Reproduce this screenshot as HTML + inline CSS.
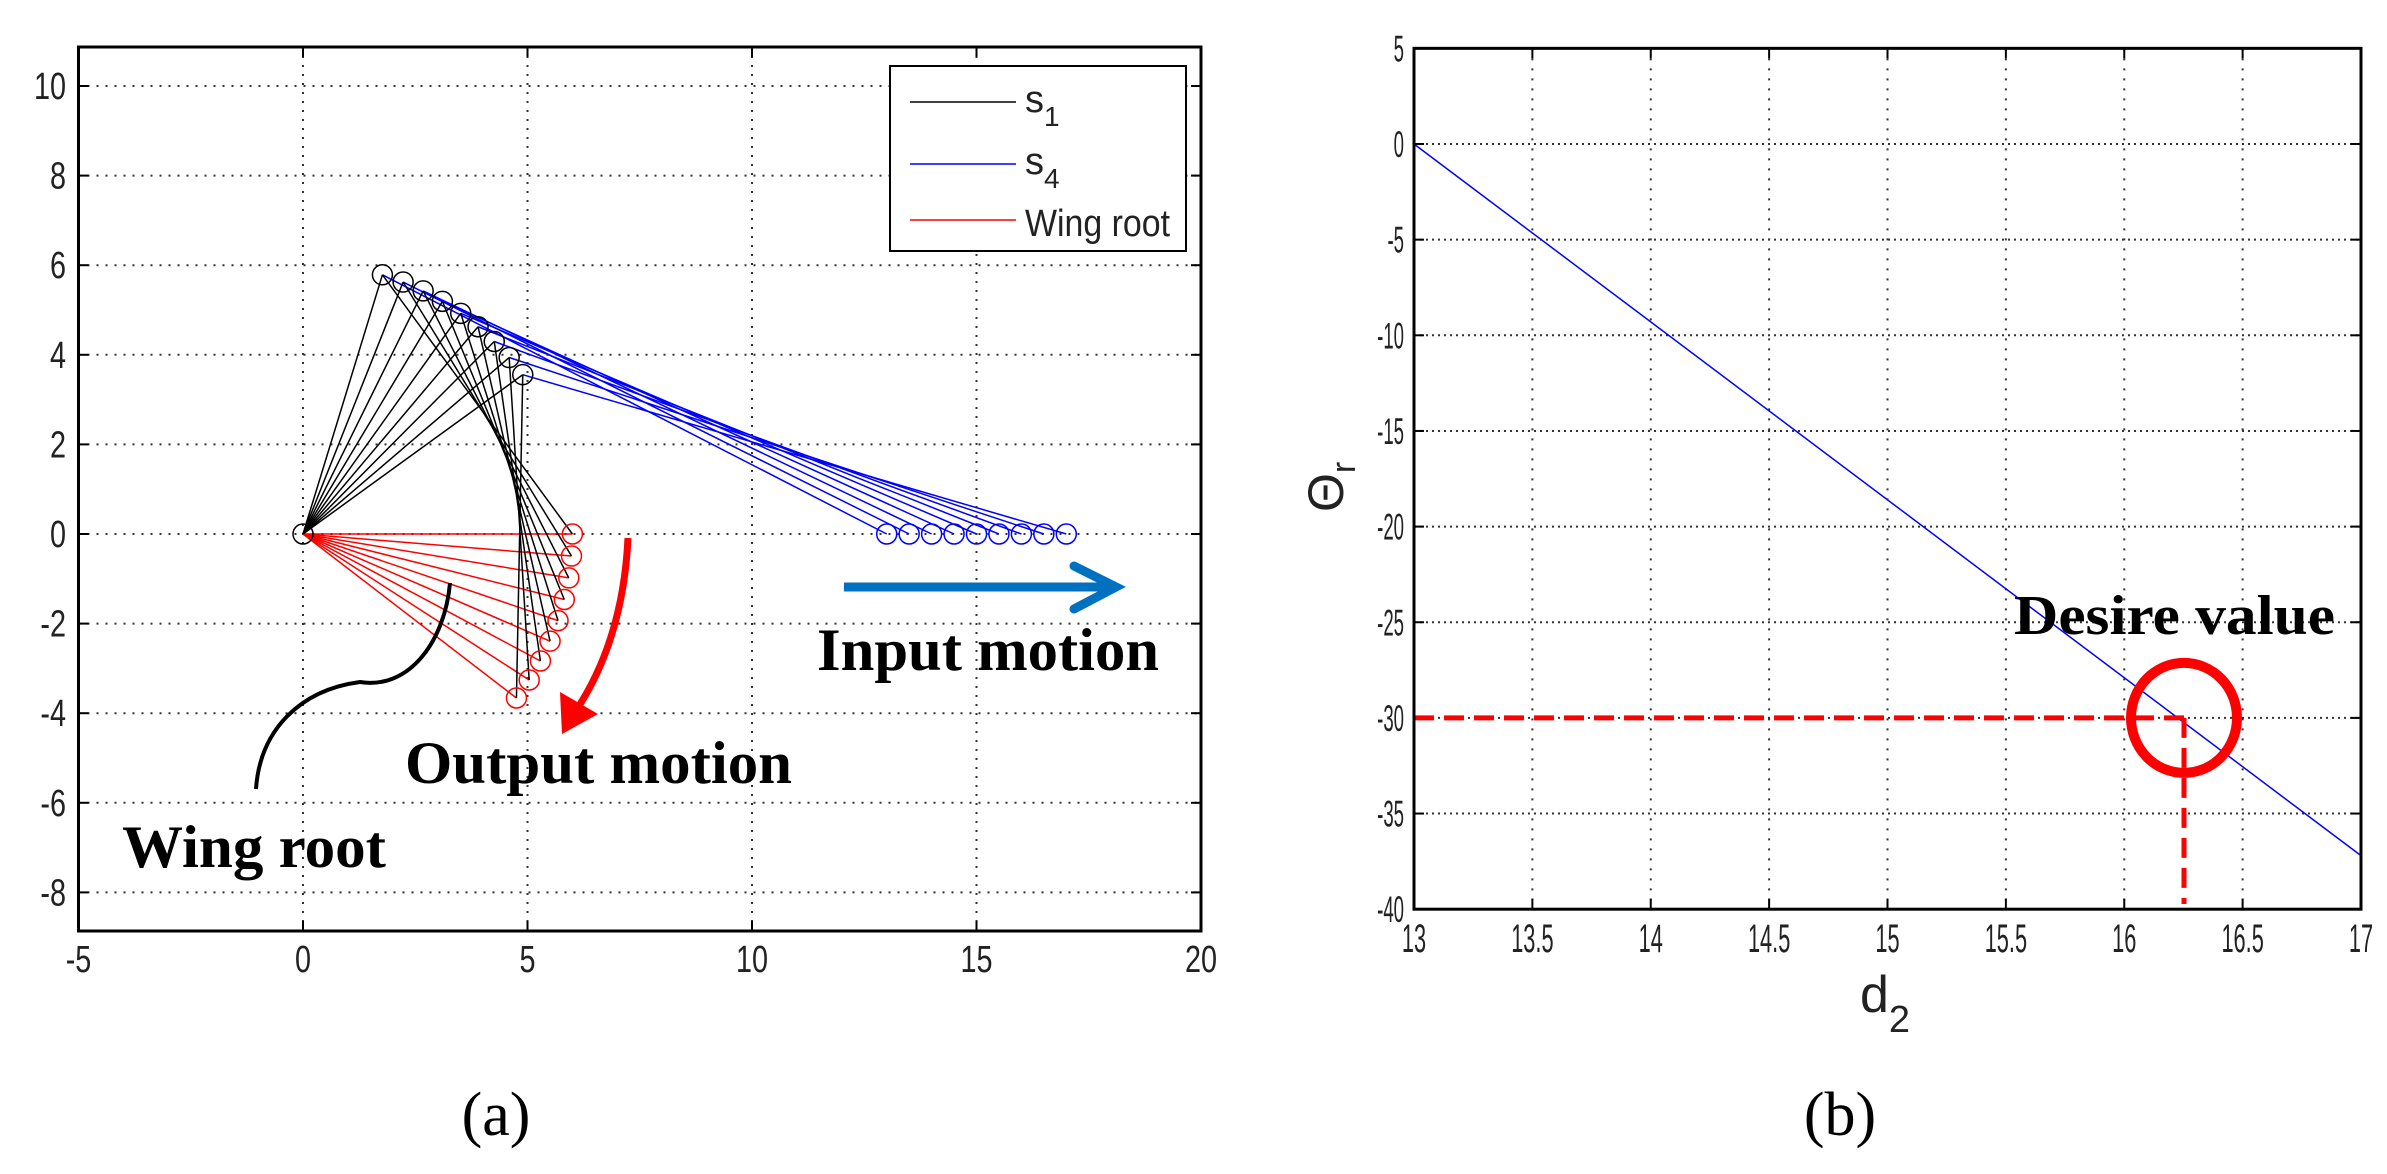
<!DOCTYPE html>
<html><head><meta charset="utf-8"><style>
html,body{margin:0;padding:0;background:#fff;}
svg{display:block;}
.t{font-family:"Liberation Sans",sans-serif;fill:#222;}
.s{font-family:"Liberation Serif",serif;font-weight:bold;fill:#000;}
</style></head><body>
<svg id="sv" width="2387" height="1174" viewBox="0 0 2387 1174" xmlns="http://www.w3.org/2000/svg">
<rect width="2387" height="1174" fill="#fff"/>
<g id="L"></g>
<g id="R"></g>
<path d="M628,538 C625,600 610,660 575,712" fill="none" stroke="#f00" stroke-width="7"/>
<polygon points="562,734 560,692 598,714" fill="#f00"/>
<path d="M450,583 C445,640 410,690 360,682 C300,690 260,730 256,789" fill="none" stroke="#000" stroke-width="4"/>
<line x1="844" y1="587" x2="1112" y2="587" stroke="#0070c0" stroke-width="9"/>
<polyline points="1074,566 1116,587 1074,609" fill="none" stroke="#0070c0" stroke-width="9" stroke-linecap="round"/>
<text class="s" x="817" y="670" font-size="60" textLength="342" lengthAdjust="spacingAndGlyphs">Input motion</text>
<text class="s" x="405" y="783" font-size="60" textLength="387" lengthAdjust="spacingAndGlyphs">Output motion</text>
<text class="s" x="122" y="867" font-size="60" textLength="264" lengthAdjust="spacingAndGlyphs">Wing root</text>
<text x="496" y="1135" font-family="Liberation Serif,serif" font-size="62" text-anchor="middle">(a)</text>
<rect x="890" y="66" width="296" height="185" fill="#fff" stroke="#000" stroke-width="2"/>
<line x1="910" y1="102" x2="1016" y2="102" stroke="#000" stroke-width="1.5"/>
<line x1="910" y1="164" x2="1016" y2="164" stroke="#00f" stroke-width="1.5"/>
<line x1="910" y1="220" x2="1016" y2="220" stroke="#f00" stroke-width="1.5"/>
<text class="t" x="1025" y="112" font-size="38">s<tspan font-size="28" dy="14">1</tspan></text>
<text class="t" x="1025" y="174" font-size="38">s<tspan font-size="28" dy="14">4</tspan></text>
<text class="t" x="1025" y="236" font-size="38" textLength="145" lengthAdjust="spacingAndGlyphs">Wing root</text>
<text class="s" x="2014" y="634" font-size="56" textLength="321" lengthAdjust="spacingAndGlyphs">Desire value</text>
<text x="1840" y="1135" font-family="Liberation Serif,serif" font-size="62" text-anchor="middle">(b)</text>
<text class="t" transform="translate(1343,512) rotate(-90)" font-size="50">Θ<tspan font-size="34" dy="12">r</tspan></text>
<text class="t" x="1860" y="1012" font-size="52">d<tspan font-size="38" dy="20">2</tspan></text>
</svg>
<script>
var NS="http://www.w3.org/2000/svg";
function el(p,t,a){var e=document.createElementNS(NS,t);for(var k in a)e.setAttribute(k,a[k]);p.appendChild(e);return e;}
function txt(p,x,y,s,anc){var e=el(p,"text",{"class":"t",x:x,y:y,"text-anchor":anc});e.textContent=s;return e;}
var L=document.getElementById("L");
function X(x){return 303+44.9*x;} function Y(y){return 534-44.8*y;}
var l0=X(-5),r0=X(20),t0=47,b0=931;
for(var x=0;x<=15;x+=5)el(L,"line",{x1:X(x),y1:t0,x2:X(x),y2:b0,stroke:"#333","stroke-width":2,"stroke-dasharray":"2 7"});
for(var y=-8;y<=10;y+=2)el(L,"line",{x1:l0,y1:Y(y),x2:r0,y2:Y(y),stroke:"#333","stroke-width":2,"stroke-dasharray":"2 7"});
for(var x=-5;x<=20;x+=5){el(L,"line",{x1:X(x),y1:b0,x2:X(x),y2:b0-10,stroke:"#000","stroke-width":2});el(L,"line",{x1:X(x),y1:t0,x2:X(x),y2:t0+10,stroke:"#000","stroke-width":2});
 var e=txt(L,0,0,String(x),"middle");e.setAttribute("font-size","32");e.setAttribute("transform","translate("+X(x)+",972) scale(0.9,1.2)");}
for(var y=-8;y<=10;y+=2){el(L,"line",{x1:l0,y1:Y(y),x2:l0+10,y2:Y(y),stroke:"#000","stroke-width":2});el(L,"line",{x1:r0,y1:Y(y),x2:r0-10,y2:Y(y),stroke:"#000","stroke-width":2});
 var e=txt(L,0,0,String(y),"end");e.setAttribute("font-size","32");e.setAttribute("transform","translate(66,"+(Y(y)+13)+") scale(0.9,1.2)");}
var N=9,d2r=Math.PI/180;
for(var i=0;i<N;i++){var f=i/(N-1);var pa=(73-37*f)*d2r,pd=(0-37.6*f)*d2r;
 var A=[6.05*Math.cos(pa),6.05*Math.sin(pa)],D=[6*Math.cos(pd),6*Math.sin(pd)],B=[13+0.5*i,0];
 el(L,"line",{x1:X(0),y1:Y(0),x2:X(D[0]),y2:Y(D[1]),stroke:"#f00","stroke-width":1.5});
 el(L,"line",{x1:X(A[0]),y1:Y(A[1]),x2:X(B[0]),y2:Y(B[1]),stroke:"#00f","stroke-width":1.5});
 el(L,"line",{x1:X(0),y1:Y(0),x2:X(A[0]),y2:Y(A[1]),stroke:"#000","stroke-width":1.5});
 el(L,"line",{x1:X(A[0]),y1:Y(A[1]),x2:X(D[0]),y2:Y(D[1]),stroke:"#000","stroke-width":1.5});
 el(L,"circle",{cx:X(A[0]),cy:Y(A[1]),r:10,fill:"none",stroke:"#000","stroke-width":1.5});
 el(L,"circle",{cx:X(D[0]),cy:Y(D[1]),r:10,fill:"none",stroke:"#f00","stroke-width":1.5});
 el(L,"circle",{cx:X(B[0]),cy:Y(B[1]),r:10,fill:"none",stroke:"#00f","stroke-width":1.5});}
el(L,"circle",{cx:X(0),cy:Y(0),r:10,fill:"none",stroke:"#000","stroke-width":1.5});
el(L,"rect",{x:l0,y:t0,width:r0-l0,height:b0-t0,fill:"none",stroke:"#000","stroke-width":3});
var R=document.getElementById("R");
function U(x){return 1414+236.75*(x-13);} function V(y){return 144-19.13*y;}
var l1=U(13),r1=U(17),t1=V(5),b1=V(-40);
for(var k=1;k<8;k++){var x=13+0.5*k;el(R,"line",{x1:U(x),y1:t1,x2:U(x),y2:b1,stroke:"#333","stroke-width":2,"stroke-dasharray":"2 8"});}
for(var y=0;y>=-35;y-=5)el(R,"line",{x1:l1,y1:V(y),x2:r1,y2:V(y),stroke:"#333","stroke-width":2,"stroke-dasharray":"2 4"});
for(var k=0;k<=8;k++){var x=13+0.5*k;el(R,"line",{x1:U(x),y1:b1,x2:U(x),y2:b1-10,stroke:"#000","stroke-width":2});el(R,"line",{x1:U(x),y1:t1,x2:U(x),y2:t1+10,stroke:"#000","stroke-width":2});
 var e=txt(R,0,0,String(x),"middle");e.setAttribute("font-size","32");e.setAttribute("transform","translate("+U(x)+",952) scale(0.68,1.25)");}
for(var y=5;y>=-40;y-=5){el(R,"line",{x1:l1,y1:V(y),x2:l1+10,y2:V(y),stroke:"#000","stroke-width":2});el(R,"line",{x1:r1,y1:V(y),x2:r1-10,y2:V(y),stroke:"#000","stroke-width":2});
 var e=txt(R,0,0,String(y),"end");e.setAttribute("font-size","30");e.setAttribute("transform","translate(1404,"+(V(y)+13)+") scale(0.62,1.25)");}
el(R,"line",{x1:U(13),y1:V(0),x2:U(17),y2:V(-37.2),stroke:"#00f","stroke-width":1.5});
el(R,"line",{x1:l1,y1:V(-30),x2:2184,y2:V(-30),stroke:"#f00","stroke-width":5,"stroke-dasharray":"20 10"});
el(R,"line",{x1:2184,y1:V(-30),x2:2184,y2:904,stroke:"#f00","stroke-width":5,"stroke-dasharray":"20 10"});
el(R,"ellipse",{cx:2184,cy:V(-30),rx:53,ry:55,fill:"none",stroke:"#f00","stroke-width":10});
el(R,"rect",{x:l1,y:t1,width:r1-l1,height:b1-t1,fill:"none",stroke:"#000","stroke-width":3});
</script>
</body></html>
